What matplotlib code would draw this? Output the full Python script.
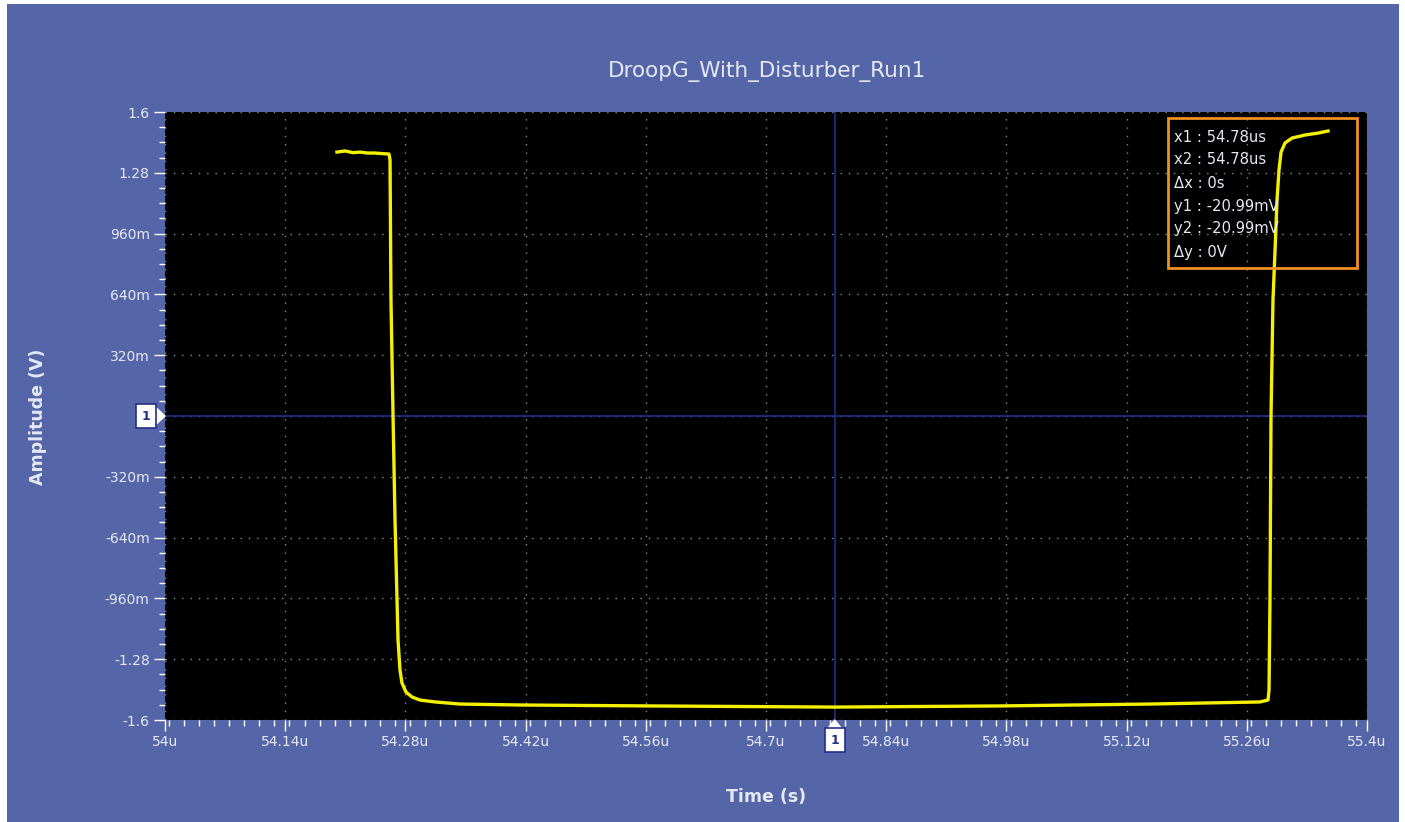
import matplotlib
matplotlib.use("Agg")
import matplotlib.pyplot as plt
from matplotlib.patches import Rectangle, Polygon
from matplotlib.ticker import FixedLocator, FuncFormatter, MultipleLocator
import matplotlib.transforms as mtrans

# waveform (time in us, amplitude in V)
t_us = [54.2003, 54.2097, 54.2190, 54.2271, 54.2360, 54.2446, 54.2530, 54.2609,
        54.2621, 54.2632, 54.2656, 54.2679, 54.2714, 54.2737, 54.2760, 54.2807,
        54.2877, 54.2970, 54.3145, 54.3436, 54.4135, 54.5649, 54.7803, 54.9725,
        55.1473, 55.2754, 55.2847, 55.2859, 55.2870, 55.2882, 55.2905, 55.2929,
        55.2952, 55.2975, 55.2999, 55.3045, 55.3127, 55.3278, 55.3430, 55.3546]
amp_v = [1.389, 1.395, 1.386, 1.389, 1.384, 1.384, 1.381, 1.379,
         1.347, 0.611, 0.0, -0.547, -1.179, -1.337, -1.405, -1.453,
         -1.479, -1.495, -1.505, -1.516, -1.521, -1.526, -1.532, -1.526,
         -1.516, -1.505, -1.495, -1.442, -0.968, 0.0, 0.611, 0.874,
         1.137, 1.295, 1.389, 1.437, 1.463, 1.479, 1.489, 1.500]

x_ticks = [54.0, 54.14, 54.28, 54.42, 54.56, 54.7, 54.84, 54.98, 55.12, 55.26, 55.4]
y_ticks = [1.6, 1.28, 0.96, 0.64, 0.32, 0.0, -0.32, -0.64, -0.96, -1.28, -1.6]
# the "0" label is hidden behind the cursor marker on the scope screen
y_labels = ["1.6", "1.28", "960m", "640m", "320m", "", "-320m", "-640m", "-960m", "-1.28", "-1.6"]

cursor_x = 54.78
cursor_y = 0.0
readout = ["x1 : 54.78us", "x2 : 54.78us", "\u0394x : 0s",
           "y1 : -20.99mV", "y2 : -20.99mV", "\u0394y : 0V"]

bg_blue = "#5566a8"
txt = "#e6e9f4"
navy = "#22308a"

W, H = 1405, 822
fig = plt.figure(figsize=(W / 100, H / 100), dpi=100, facecolor="white")
fig.patches.append(Rectangle((7 / W, 0), (1399 - 7) / W, (H - 4) / H,
                             transform=fig.transFigure, facecolor=bg_blue,
                             edgecolor="none", zorder=-10))

ax = fig.add_axes([165 / W, 1 - 720 / H, (1367 - 165) / W, (720 - 112) / H])
ax.set_facecolor("black")
ax.plot(t_us, amp_v, color="#f4f000", lw=2.4, zorder=5, solid_joinstyle="round")

ax.set_xlim(54.0, 55.4)
ax.set_ylim(-1.6, 1.6)
ax.xaxis.set_major_locator(FixedLocator(x_ticks))
ax.xaxis.set_minor_locator(MultipleLocator(0.0175))
ax.yaxis.set_major_locator(FixedLocator(y_ticks))
ax.yaxis.set_minor_locator(MultipleLocator(0.08))
ax.xaxis.set_major_formatter(FuncFormatter(lambda v, p: ("%g" % round(v, 2)) + "u"))
ax.set_yticklabels(y_labels)

ax.tick_params(which="major", direction="out", length=8, width=1, color="white",
               labelcolor=txt, labelsize=10, pad=3)
ax.tick_params(which="minor", direction="out", length=4, width=1, color="white")
ax.grid(True, which="major", color="#8a8a8a", ls=(0, (1, 5)), lw=1)
for s in ax.spines.values():
    s.set_visible(False)

# cursor lines
ax.axvline(cursor_x, color=navy, lw=1.2, zorder=3)
ax.axhline(cursor_y, color=navy, lw=1.2, zorder=3)

# cursor markers
ytr = mtrans.blended_transform_factory(ax.transAxes, ax.transData)
ax.add_patch(Polygon([(-0.0068, cursor_y + 0.04), (0.0, cursor_y), (-0.0068, cursor_y - 0.04)],
                     closed=True, transform=ytr, facecolor="white", edgecolor="white",
                     clip_on=False, zorder=6))
ax.text(-0.0155, cursor_y, "1", transform=ytr, ha="center", va="center", fontsize=9,
        fontweight="bold", color=navy, clip_on=False, zorder=7,
        bbox=dict(boxstyle="square,pad=0.45", fc="white", ec=navy, lw=1.2))
xtr = mtrans.blended_transform_factory(ax.transData, ax.transAxes)
ax.add_patch(Polygon([(cursor_x - 0.008, -0.014), (cursor_x, 0.0), (cursor_x + 0.008, -0.014)],
                     closed=True, transform=xtr, facecolor="white", edgecolor="white",
                     clip_on=False, zorder=6))
ax.text(cursor_x, -0.033, "1", transform=xtr, ha="center", va="center", fontsize=9,
        fontweight="bold", color=navy, clip_on=False, zorder=7,
        bbox=dict(boxstyle="square,pad=0.45", fc="white", ec=navy, lw=1.2))

# readout box
fig.patches.append(Rectangle((1168 / W, 1 - 268 / H), (1357 - 1168) / W, (268 - 118) / H,
                             transform=fig.transFigure, facecolor="none",
                             edgecolor="#f0901e", lw=2, zorder=4))
for i, line in enumerate(readout):
    fig.text(1174 / W, 1 - (137 + i * 23.0) / H, line, ha="left", va="center",
             color=txt, fontsize=10.6, zorder=8)

fig.text(767 / W, 1 - 72 / H, "DroopG_With_Disturber_Run1", ha="center", va="center",
         color=txt, fontsize=15.5)
fig.text(766 / W, 1 - 797 / H, "Time (s)", ha="center", va="center",
         color=txt, fontsize=12.5, fontweight="bold")
fig.text(38 / W, 1 - 417 / H, "Amplitude (V)", ha="center", va="center", rotation=90,
         color=txt, fontsize=12.5, fontweight="bold")

fig.savefig("out.png", dpi=100, facecolor=fig.get_facecolor())
